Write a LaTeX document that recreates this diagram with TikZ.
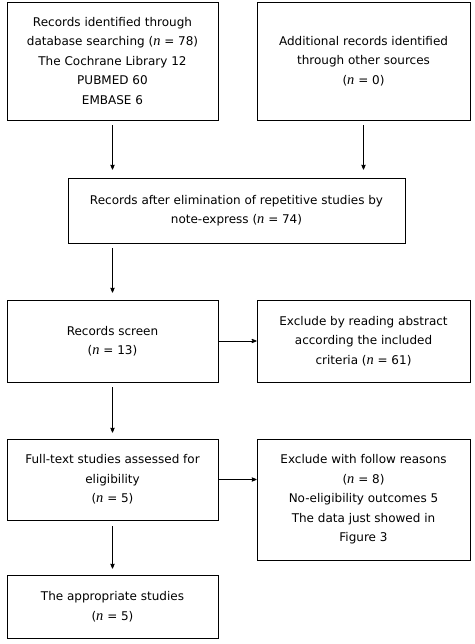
\documentclass[tikz,border=0pt]{standalone}
\usepackage{fontspec}
\setmainfont{DejaVu Sans}
\newfontfamily\nfont{Liberation Serif}[Scale=1.2]
\newcommand\nn{{\nfont\itshape n}}
\usetikzlibrary{arrows}
\tikzset{%
 >=stealth',
 box/.style={draw, line width=.8pt, align=center, inner sep=0pt,
             font=\fontsize{12}{19.5}\selectfont},
 flow/.style={->, line width=.8pt}
}

\begin{document}
\begin{tikzpicture}[x=1pt, y=-1pt]
 \useasboundingbox (0,0) rectangle (474,644);
 % top row
 \node [box, minimum width=211, minimum height=118] (db) at (112.5,61)
  {Records identified through\\database searching (\nn{} = 78)\\The Cochrane Library 12\\PUBMED 60\\EMBASE 6};
 \node [box, minimum width=213, minimum height=118] (other) at (363.5,61)
  {Additional records identified\\through other sources\\(\nn{} = 0)};
 \node [box, minimum width=337, minimum height=65] (dedup) at (236.5,210.5)
  {Records after elimination of repetitive studies by\\note-express (\nn{} = 74)};
 % screening
 \node [box, minimum width=211, minimum height=82] (screen) at (112.5,341)
  {Records screen\\(\nn{} = 13)};
 \node [box, minimum width=213, minimum height=82] (abs) at (363.5,341)
  {Exclude by reading abstract\\according the included\\criteria (\nn{} = 61)};
 % eligibility
 \node [box, minimum width=211, minimum height=81] (full) at (112.5,479.5)
  {Full-text studies assessed for\\eligibility\\(\nn{} = 5)};
 \node [box, minimum width=213, minimum height=121] (reason) at (363.5,499.5)
  {Exclude with follow reasons\\(\nn{} = 8)\\No-eligibility outcomes 5\\The data just showed in\\Figure 3};
 \node [box, minimum width=211, minimum height=63] (final) at (112.5,606.5)
  {The appropriate studies\\(\nn{} = 5)};

 \draw [flow, shorten <=5pt, shorten >=8pt] (db.south) -- (db.south |- dedup.north);
 \draw [flow, shorten <=5pt, shorten >=8pt] (other.south) -- (other.south |- dedup.north);
 \draw [flow, shorten <=5pt, shorten >=7pt] (dedup.south -| screen) -- (screen.north);
 \draw [flow] (screen.east) -- (abs.west);
 \draw [flow, shorten <=5pt, shorten >=6pt] (screen.south) -- (full.north);
 \draw [flow] (full.east) -- (full.east -| reason.west);
 \draw [flow, shorten <=6pt, shorten >=6pt] (full.south) -- (final.north);
\end{tikzpicture}
\end{document}
